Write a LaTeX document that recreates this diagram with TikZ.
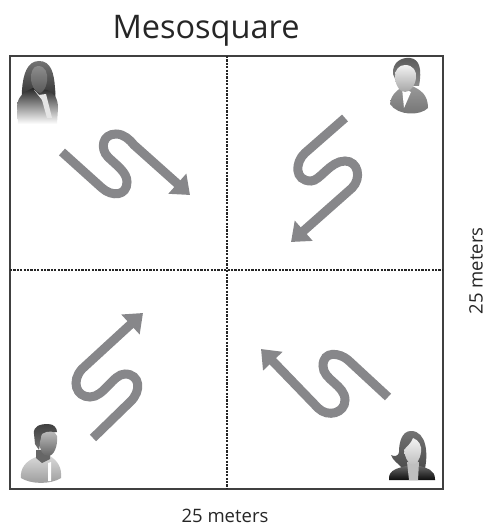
\documentclass[tikz,border=0pt]{standalone}
\usepackage{fontspec}
\setmainfont{Open Sans}
\usetikzlibrary{arrows.meta}
\definecolor{pathgray}{HTML}{87878A}
\tikzset{
	walkpath/.style={
		draw=pathgray,
		line width=9pt,
		-{Triangle[length=17pt,width=26pt]}
	},
	midline/.style={
		line width=1.1pt,
		dash pattern=on 2.2pt off 1.2pt,
		color=black!85
	},
	hair/.style={
		draw=none,
		top color=black!60,
		bottom color=black!75
	}
}
\begin{document}
\begin{tikzpicture}[x=1pt,y=-1pt]
	\useasboundingbox (0,0) rectangle (487,526);
	\node[draw=black!75, line width=1.5pt, minimum width=433pt, minimum height=433pt, inner sep=0pt] (Frame) at (226.5,272.5) {};
	\node[font=\fontsize{32.5}{38}\selectfont, text=black!85] (Title) at (206,31) {Mesosquare};
	\node[font=\fontsize{18.5}{22}\selectfont, text=black!85] (BottomLabel) at (225,516) {25 meters};
	\node[font=\fontsize{18.5}{22}\selectfont, text=black!85, rotate=90] (SideLabel) at (476,271) {25 meters};

	\coordinate (MidTop) at (227,56);
	\coordinate (MidBottom) at (227,489);
	\coordinate (MidLeft) at (10,270);
	\coordinate (MidRight) at (443,270);
	\draw[midline] (MidTop) -- (MidBottom);
	\draw[midline] (MidLeft) -- (MidRight);

	\coordinate (WalkA) at (62,152);
	\coordinate (EndA) at (190,195);
	\coordinate (WalkB) at (345,118);
	\coordinate (EndB) at (291,242);
	\coordinate (WalkC) at (93,438);
	\coordinate (EndC) at (143,313);
	\coordinate (WalkD) at (388,397);
	\coordinate (EndD) at (261,349);
	\draw[walkpath] (WalkA) -- (102,188) .. controls (112,197) and (127,196) .. (127,182) .. controls (127,172) and (116,165) .. (108,157) .. controls (100,149) and (102,134) .. (116,134) .. controls (124,134) and (130,140) .. (134,145) -- (EndA);
	\draw[walkpath] (WalkB) -- (305,153) .. controls (295,162) and (294,181) .. (311,181) .. controls (320,181) and (330,161) .. (345,161) .. controls (358,161) and (362,178) .. (352,188) -- (EndB);
	\draw[walkpath] (WalkC) -- (130,402) .. controls (142,391) and (140,374) .. (125,374) .. controls (113,374) and (104,397) .. (90,397) .. controls (76,397) and (71,381) .. (82,369) -- (EndC);
	\draw[walkpath] (WalkD) -- (348,360) .. controls (340,353) and (323,350) .. (323,366) .. controls (323,380) and (345,385) .. (345,400) .. controls (345,413) and (328,418) .. (318,408) -- (EndD);

	% top left person
	\path[hair, top color=black!55, bottom color=black!85] (39,61) .. controls (27,61) and (23,75) .. (22,90) .. controls (21,98) and (23,104) .. (28,104) -- (51,104) .. controls (56,102) and (56,95) .. (55,88) .. controls (54,73) and (51,61) .. (39,61) -- cycle;
	\path[draw=none, top color=black!85, middle color=black!75, bottom color=white] (17,106) .. controls (18,96) and (24,92) .. (33,88) -- (47,90) .. controls (54,93) and (58,98) .. (58,108) -- (57,124) -- (18,124) -- cycle;
	\path[fill=black!10] (34,90) -- (39,95) -- (46,94) -- (52,118) -- (47,118) -- (42,100) -- cycle;
	\path[draw=none, top color=black!45, bottom color=black!65] (38,66) .. controls (46,66) and (48,74) .. (47,81) .. controls (46,89) and (42,93) .. (40,93) .. controls (36,93) and (31,86) .. (31,78) .. controls (31,72) and (33,66) .. (38,66) -- cycle;

	% top right person
	\path[draw=none, top color=black!40, bottom color=black!55] (390,104) .. controls (391,94) and (398,90) .. (403,86) -- (412,86) .. controls (421,90) and (428,95) .. (428,108) .. controls (420,116) and (398,116) .. (390,104) -- cycle;
	\path[fill=white] (402,88) -- (411,92) -- (404,108) -- cycle;
	\path[hair, top color=black!65, bottom color=black!45] (393,74) .. controls (392,62) and (402,57) .. (410,58) .. controls (420,59) and (422,70) .. (419,86) -- (412,86) -- (398,86) -- cycle;
	\path[draw=none, top color=black!5, bottom color=black!35] (405,65) .. controls (413,65) and (417,71) .. (416,78) .. controls (415,86) and (410,92) .. (405,92) .. controls (399,92) and (395,84) .. (395,76) .. controls (395,70) and (399,65) .. (405,65) -- cycle;

	% bottom left person
	\path[draw=none, top color=black!15, bottom color=black!40] (21,478) .. controls (20,468) and (26,461) .. (36,457) -- (50,456) .. controls (58,461) and (62,468) .. (61,478) .. controls (50,485) and (30,484) .. (21,478) -- cycle;
	\path[fill=black!60] (36,450) -- (50,450) -- (50,459) -- (42,463) -- (36,458) -- cycle;
	\path[fill=white] (48,463) -- (51,462) -- (51,481) -- (48,481) -- cycle;
	\path[hair, top color=black!75, bottom color=black!55] (34,434) .. controls (33,426) and (40,424) .. (48,424) .. controls (54,424) and (57,428) .. (57,432) -- (42,434) -- (39,450) -- (35,444) -- cycle;
	\path[draw=none, top color=black!25, bottom color=black!60] (42,434) .. controls (48,430) and (56,431) .. (57,436) .. controls (58,446) and (54,456) .. (48,456) .. controls (43,456) and (39,450) .. (40,442) -- cycle;

	% bottom right person
	\path[hair, top color=black!55, bottom color=black!70] (411,431) .. controls (402,431) and (399,442) .. (399,452) .. controls (399,456) and (394,457) .. (391,455) .. controls (393,461) and (398,463) .. (402,468) -- (425,468) .. controls (428,455) and (427,431) .. (411,431) -- cycle;
	\path[draw=none, top color=black!60, bottom color=black!95] (389,478) .. controls (389,470) and (398,468) .. (406,466) -- (420,466) .. controls (427,468) and (435,470) .. (435,479) -- (435,480) -- (389,480) -- cycle;
	\path[fill=black!25] (407,462) -- (419,462) -- (418,480) -- (409,480) -- cycle;
	\path[draw=none, top color=black!5, bottom color=black!25] (413,438) .. controls (419,440) and (422,446) .. (421,452) .. controls (420,460) and (416,465) .. (413,465) .. controls (409,465) and (405,458) .. (404,450) .. controls (406,447) and (411,444) .. (413,438) -- cycle;
\end{tikzpicture}
\end{document}
